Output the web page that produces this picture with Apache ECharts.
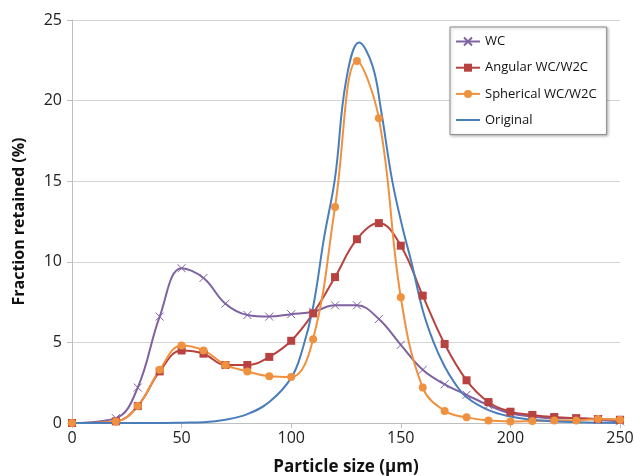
<!DOCTYPE html>
<html>
<head>
<meta charset="utf-8">
<script src="https://cdn.jsdelivr.net/npm/echarts@6/dist/echarts.min.js"></script>
<style>html,body{margin:0;padding:0;background:#fff}#c{width:634px;height:476px}</style>
</head>
<body>
<div id="c"></div>
<script>
const sizes = [0,20,30,40,50,60,70,80,90,100,110,120,130,140,150,160,170,180,190,200,210,220,230,240,250];
const wc =        [0,0.3,2.2,6.6,9.6,9.0,7.4,6.7,6.6,6.75,6.9,7.3,7.3,6.45,4.85,3.3,2.4,1.75,1.1,0.6,0.4,0.3,0.3,0.2,0.1];
const angular =   [0,0.1,1.05,3.2,4.5,4.3,3.6,3.6,4.1,5.1,6.8,9.05,11.4,12.4,11.0,7.9,4.9,2.65,1.3,0.7,0.5,0.37,0.3,0.25,0.2];
const spherical = [0,0.1,1.05,3.3,4.8,4.5,3.6,3.2,2.9,2.85,5.2,13.4,22.45,18.9,7.8,2.2,0.75,0.35,0.15,0.1,0.12,0.15,0.15,0.25,0.2];
const origX = [0,20,40,50,60,70,80,90,100,105,110,115,120,125,131,137,141,146,151,155,160,165,170,175,180,190,200,210,220,230,240,250];
const origY = [0,0,0,0.02,0.05,0.2,0.55,1.3,2.8,4.5,7.2,11.5,15.2,21.2,23.6,22.2,19.4,15.1,12.0,9.9,7.0,5.0,3.5,2.4,1.6,0.8,0.4,0.2,0.1,0.05,0.02,0];
const names = ['WC','Angular WC/W2C','Spherical WC/W2C','Original'];
const colors = ['#7F62A1','#B8423F','#F0913F','#4A7EBB'];

const pair = (xs, ys) => xs.map((x, i) => [x, ys[i]]);
const font = 'Open Sans, Lato, sans-serif';
const chart = echarts.init(document.getElementById('c'));
chart.setOption({
  animation: false,
  grid: {left: 72, right: 14, top: 20, bottom: 53, outerBoundsMode: 'none', containLabel: false},
  legend: {
    orient: 'vertical', left: 450, top: 27,
    padding: [8, 10, 8, 5], itemGap: 13.2, itemWidth: 24, itemHeight: 10,
    backgroundColor: '#fff', borderColor: '#8c8c8c', borderWidth: 1,
    shadowColor: 'rgba(0,0,0,0.25)', shadowBlur: 3, shadowOffsetX: 1, shadowOffsetY: 1,
    textStyle: {fontFamily: font, fontSize: 13, color: '#111'},
    data: [names[0], names[1], names[2],
      {name: names[3], icon: 'path://M0,0L0.01,0ZM0,4L24,4L24,6L0,6ZM0,10L0.01,10Z'}]
  },
  xAxis: {
    type: 'value', min: 0, max: 250, interval: 50,
    name: 'Particle size (\u03bcm)', nameLocation: 'middle', nameGap: 36,
    nameTextStyle: {fontFamily: font, fontSize: 17, fontWeight: 'bold', color: '#111'},
    axisLine: {lineStyle: {color: '#bfbfbf', width: 1}},
    axisTick: {show: true, length: 5, lineStyle: {color: '#bfbfbf'}},
    axisLabel: {fontFamily: font, fontSize: 16, color: '#222', margin: 7},
    splitLine: {show: false}
  },
  yAxis: {
    type: 'value', min: 0, max: 25, interval: 5,
    name: 'Fraction retained (%)', nameLocation: 'middle', nameGap: 45,
    nameTextStyle: {fontFamily: font, fontSize: 16, fontWeight: 'bold', color: '#111'},
    axisLine: {show: true, lineStyle: {color: '#bfbfbf', width: 1}},
    axisTick: {show: true, length: 5, lineStyle: {color: '#bfbfbf'}},
    axisLabel: {fontFamily: font, fontSize: 16, color: '#222', margin: 10},
    splitLine: {lineStyle: {color: '#d4d4d4', width: 1}}
  },
  series: [
    {name: names[0], type: 'line', smooth: 0.4, data: pair(sizes, wc),
     symbol: 'path://M0,0L10,10M10,0L0,10', symbolSize: 8, showSymbol: true,
     lineStyle: {color: colors[0], width: 2}, itemStyle: {color: colors[0], borderColor: colors[0], borderWidth: 1}},
    {name: names[1], type: 'line', smooth: 0.4, data: pair(sizes, angular),
     symbol: 'rect', symbolSize: 8,
     lineStyle: {color: colors[1], width: 2}, itemStyle: {color: colors[1], borderWidth: 0}},
    {name: names[2], type: 'line', smooth: 0.4, data: pair(sizes, spherical),
     symbol: 'circle', symbolSize: 8,
     lineStyle: {color: colors[2], width: 2}, itemStyle: {color: colors[2], borderWidth: 0}},
    {name: names[3], type: 'line', smooth: 0.4, data: pair(origX, origY),
     symbol: 'none', showSymbol: false,
     lineStyle: {color: colors[3], width: 2}, itemStyle: {color: colors[3]}}
  ]
});
</script>
</body>
</html>
